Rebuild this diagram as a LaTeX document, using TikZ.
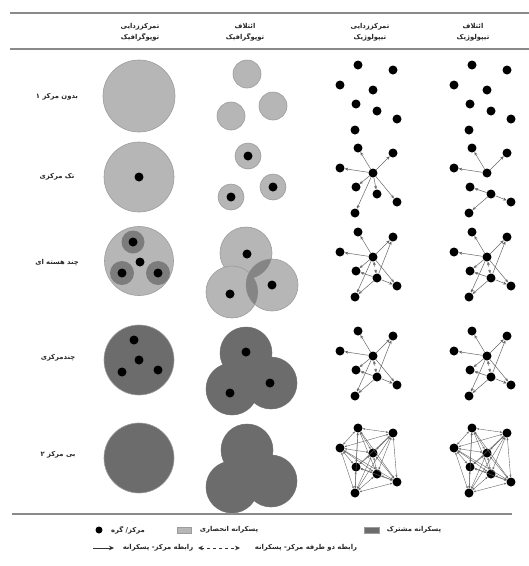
\documentclass[tikz,border=0pt]{standalone}
\usepackage{fontspec}
\newfontfamily\fa[Script=Arabic]{DejaVu Sans}
\TeXXeTstate=1
\usetikzlibrary{arrows.meta}
\definecolor{lightg}{HTML}{B6B6B6}
\definecolor{darkg}{HTML}{6C6C6C}
\definecolor{midg}{HTML}{858585}
\definecolor{ringg}{HTML}{7C7C7C}
\definecolor{rim}{HTML}{9C9C9C}
\definecolor{edgec}{HTML}{666666}
\definecolor{rulec}{HTML}{8A8A8A}
\begin{document}
\begin{tikzpicture}[x=1pt,y=-1pt,
  fatext/.style={font=\fa\bfseries\fontsize{6.8}{11.5}\selectfont, text=black!85, inner sep=0pt, align=center},
  dot/.style={circle, fill=black, minimum size=9pt, inner sep=0pt},
  arr/.style={draw=edgec, line width=0.5pt, -{Stealth[length=3.6pt,width=3pt]}},
  darr/.style={draw=edgec, line width=0.5pt, {Stealth[length=3.6pt,width=3pt]}-{Stealth[length=3.6pt,width=3pt]}},
  larr/.style={draw=black!80, line width=0.8pt, -{Stealth[length=5pt,width=4.5pt]}},
  ldarr/.style={draw=black!80, line width=0.8pt, dashed, {Stealth[length=5pt,width=4.5pt]}-{Stealth[length=5pt,width=4.5pt]}},
  mesh/.style={draw=edgec, line width=0.4pt, {Stealth[length=2.4pt,width=2pt]}-{Stealth[length=2.4pt,width=2pt]}},
  rulel/.style={draw=rulec, line width=1.6pt},
  lightdisc/.style={fill=lightg, draw=rim, line width=0.6pt},
  darkdisc/.style={fill=darkg, draw=rim, line width=0.6pt}
]
\useasboundingbox (0,0) rectangle (529,566);
\fill[white] (0,0) rectangle (529,566);

% rules
\draw[rulel] (10,13) -- (529,13);
\draw[rulel] (10,49) -- (529,49);
\draw[rulel] (12,514) -- (512,514);

% headers
\node[fatext] (h1) at (140,32) {\beginR تمرکززدایی\endR\\\beginR توپوگرافیک\endR};
\node[fatext] (h2) at (245,32) {\beginR ائتلاف\endR\\\beginR توپوگرافیک\endR};
\node[fatext] (h3) at (370,32) {\beginR تمرکززدایی\endR\\\beginR تیپولوژیک\endR};
\node[fatext] (h4) at (473,32) {\beginR ائتلاف\endR\\\beginR تیپولوژیک\endR};

% row labels
\node[fatext] (l1) at (57,97) {\beginR بدون مرکز ۱\endR};
\node[fatext] (l2) at (57,177) {\beginR تک مرکزی\endR};
\node[fatext] (l3) at (57,263) {\beginR چند هسته ای\endR};
\node[fatext] (l4) at (58,358) {\beginR چندمرکزی\endR};
\node[fatext] (l5) at (58,455) {\beginR بی مرکز ۲\endR};

% ---------- column 1 ----------
\filldraw[lightdisc] (139,96) circle (36);
\filldraw[lightdisc] (139,177) circle (35);
\node[dot] (c1r2) at (139,177) {};
\filldraw[lightdisc] (139,261) circle (34.5);
\fill[ringg] (133,242) circle (11.5);
\fill[ringg] (122,273) circle (12);
\fill[ringg] (158,273) circle (12);
\node[dot] (c1r3a) at (133,242) {};
\node[dot] (c1r3b) at (122,273) {};
\node[dot] (c1r3c) at (158,273) {};
\node[dot] (c1r3d) at (140,262) {};
\filldraw[darkdisc] (139,360) circle (35);
\node[dot] (c1r4a) at (134,340) {};
\node[dot] (c1r4b) at (139,360) {};
\node[dot] (c1r4c) at (122,372) {};
\node[dot] (c1r4d) at (158,370) {};
\filldraw[darkdisc] (139,458) circle (35);

% ---------- column 2 ----------
\filldraw[lightdisc] (247,74) circle (14);
\filldraw[lightdisc] (273,106) circle (14);
\filldraw[lightdisc] (231,116) circle (14);

\filldraw[lightdisc] (248,156) circle (13);
\filldraw[lightdisc] (273,187) circle (13);
\filldraw[lightdisc] (231,197) circle (13);
\node[dot] (c2r2a) at (248,156) {};
\node[dot] (c2r2b) at (273,187) {};
\node[dot] (c2r2c) at (231,197) {};

\filldraw[lightdisc] (246,253) circle (26);
\filldraw[lightdisc] (232,292) circle (26);
\filldraw[lightdisc] (272,285) circle (26);
\begin{scope}
  \clip (272,285) circle (26);
  \fill[midg] (246,253) circle (26);
  \fill[midg] (232,292) circle (26);
\end{scope}
\node[dot] (c2r3a) at (247,254) {};
\node[dot] (c2r3b) at (230,294) {};
\node[dot] (c2r3c) at (272,285) {};

\filldraw[darkdisc] (246,353) circle (26);
\filldraw[darkdisc] (232,389) circle (26);
\filldraw[darkdisc] (271,383) circle (26);
\fill[darkg] (246,353) circle (26) (232,389) circle (26) (271,383) circle (26);
\node[dot] (c2r4a) at (246,352) {};
\node[dot] (c2r4b) at (230,393) {};
\node[dot] (c2r4c) at (270,383) {};

\filldraw[darkdisc] (247,450) circle (26);
\filldraw[darkdisc] (232,487) circle (26);
\filldraw[darkdisc] (271,481) circle (26);
\fill[darkg] (247,450) circle (26) (232,487) circle (26) (271,481) circle (26);

% ---------- columns 3 and 4: networks ----------
\foreach \c/\dx in {3/0,4/114}{
  \foreach \r/\dy in {1/0,2/83,3/167,4/266,5/363}{
    \foreach \n/\px/\py in {A/358/65,B/393/70,C/340/85,D/373/90,E/356/104,F/377/111,G/397/119,H/355/130}{
      \node[dot] (c\c r\r\n) at (\px+\dx,\py+\dy) {};
    }
  }
}

% row 2
\foreach \t in {A,B,C,E,F,G,H}{ \draw[arr] (c3r2D) -- (c3r2\t); }
\foreach \t in {A,B,C}{ \draw[arr] (c4r2D) -- (c4r2\t); }
\foreach \t in {E,G,H}{ \draw[arr] (c4r2F) -- (c4r2\t); }

% rows 3 and 4
\foreach \c in {3,4}{
  \foreach \r in {3,4}{
    \foreach \t in {A,B,C,E,G,H}{ \draw[arr] (c\c r\r D) -- (c\c r\r\t); }
    \foreach \t in {B,E,G,H}{ \draw[arr] (c\c r\r F) -- (c\c r\r\t); }
    \draw[darr, dashed] (c\c r\r D) -- (c\c r\r F);
  }
}

% row 5: mesh
\foreach \c in {3,4}{
  \foreach \a/\bs in {A/{B,C,D,E,F,G,H},B/{C,D,E,F,G,H},C/{D,E,F,G,H},D/{E,F,G,H},E/{F,G,H},F/{G,H},G/{H}}{
    \foreach \b in \bs { \draw[mesh] (c\c r5\a) -- (c\c r5\b); }
  }
}

% ---------- legend ----------
\node[dot, minimum size=7pt] (lgdot) at (99,530) {};
\node[fatext] (lgdott) at (128,530) {\beginR مرکز/ گره\endR};
\node[fill=lightg, draw=rim, minimum width=14pt, minimum height=6pt, inner sep=0pt] (lgl) at (184,530) {};
\node[fatext] (lglt) at (229,530) {\beginR پسکرانه انحصاری\endR};
\node[fill=darkg, draw=rim, minimum width=15pt, minimum height=6pt, inner sep=0pt] (lgd) at (372,530) {};
\node[fatext] (lgdt) at (414,530) {\beginR پسکرانه مشترک\endR};

\coordinate (la1) at (93,548);
\coordinate (la2) at (114,548);
\draw[larr] (la1) -- (la2);
\node[fatext] (lat) at (158,548) {\beginR رابطه مرکز- پسکرانه\endR};
\coordinate (lb1) at (198,548);
\coordinate (lb2) at (240,548);
\draw[ldarr] (lb1) -- (lb2);
\node[fatext] (lbt) at (306,548) {\beginR رابطه دو طرفه مرکز- پسکرانه\endR};
\end{tikzpicture}
\end{document}
